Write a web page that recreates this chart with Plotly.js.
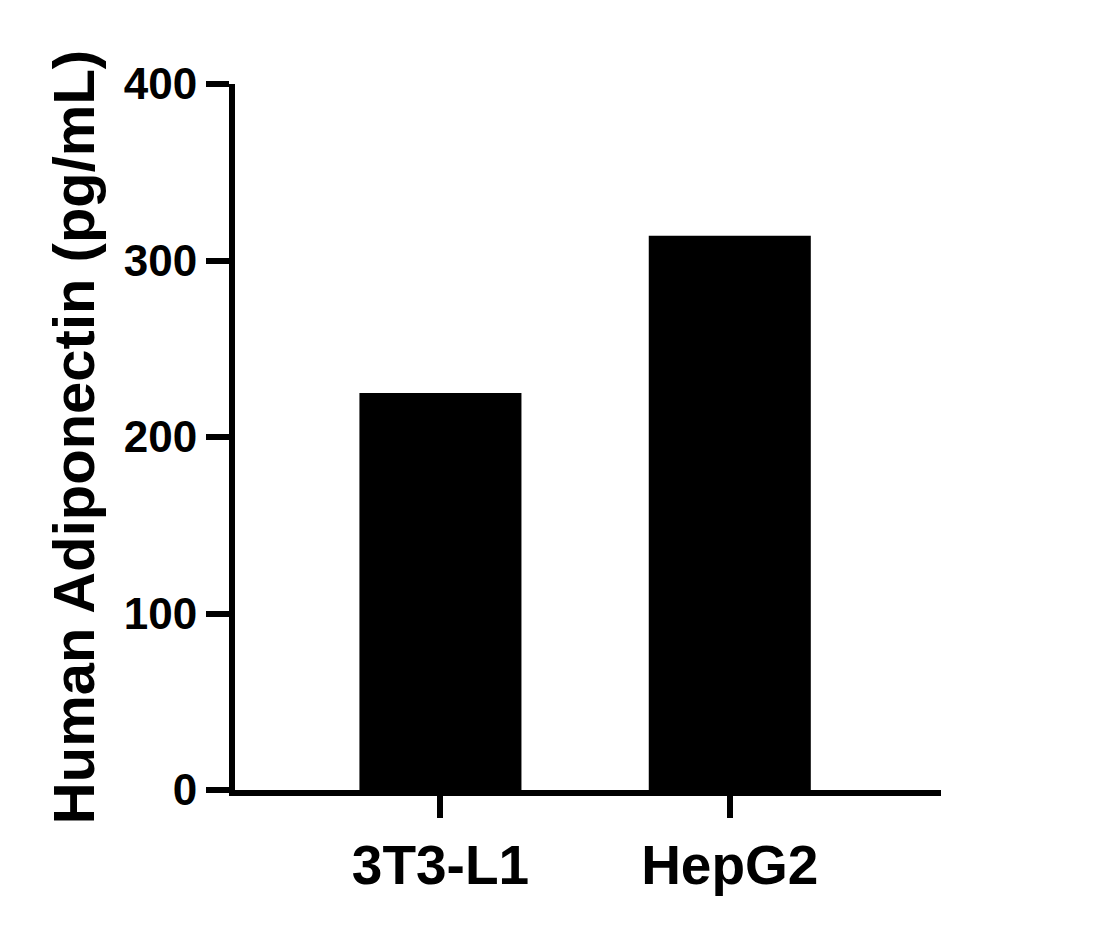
<!DOCTYPE html>
<html>
<head>
<meta charset="utf-8">
<script src="https://cdn.plot.ly/plotly-3.0.1.min.js"></script>
<style>html,body{margin:0;padding:0;background:#fff;}#chart{width:1120px;height:927px;}</style>
</head>
<body>
<div id="chart"></div>
<script>
const categories = ["3T3-L1", "HepG2"];
const values = [225, 314];
const yTickVals = [0, 100, 200, 300, 400];
const yTickText = ["0", "100", "200", "300", "400"];
const yTitle = "Human Adiponectin (pg/mL)";

const fontFam = "Liberation Sans, Arial, Helvetica, sans-serif";

const trace = {
  type: "bar",
  x: categories,
  y: values,
  width: 0.56,
  marker: {color: "#000000", line: {width: 0}},
  hoverinfo: "skip"
};

const layout = {
  width: 1120,
  height: 927,
  paper_bgcolor: "#ffffff",
  plot_bgcolor: "#ffffff",
  showlegend: false,
  margin: {l: 235, r: 179, t: 84, b: 137, pad: 0},
  font: {family: fontFam, color: "#000000"},
  xaxis: {
    type: "category",
    range: [-0.71, 1.73],
    showline: true,
    linecolor: "#000000",
    linewidth: 6,
    ticks: "outside",
    ticklen: 22,
    tickwidth: 6,
    tickcolor: "#000000",
    tickfont: {family: fontFam, size: 55, weight: "bold", color: "#000000"},
    showgrid: false,
    zeroline: false,
    automargin: false,
    fixedrange: true
  },
  yaxis: {
    range: [0, 400],
    tickvals: yTickVals,
    ticktext: yTickText,
    showline: true,
    linecolor: "#000000",
    linewidth: 6,
    ticks: "outside",
    ticklen: 23,
    tickwidth: 6,
    tickcolor: "#000000",
    tickfont: {family: fontFam, size: 44, weight: "bold", color: "#000000"},
    showgrid: false,
    zeroline: false,
    automargin: false,
    fixedrange: true,
    title: {
      text: yTitle,
      font: {family: fontFam, size: 58, weight: "bold", color: "#000000"},
      standoff: 12
    }
  },
  bargap: 0.44
};

Plotly.newPlot("chart", [trace], layout, {staticPlot: true, displayModeBar: false});
</script>
</body>
</html>
